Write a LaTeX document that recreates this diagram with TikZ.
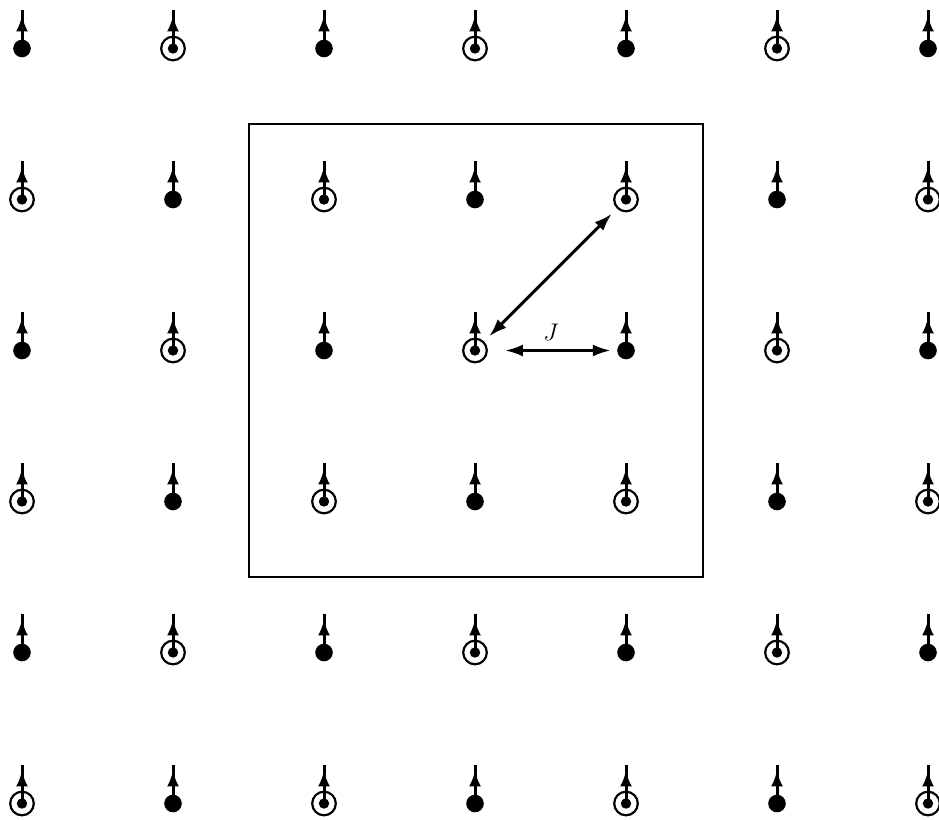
\documentclass[tikz,border=0pt]{standalone}
\usetikzlibrary{arrows.meta,decorations.markings}
\begin{document}
\begin{tikzpicture}[x=0.5pt,y=-0.5pt,
  dotsite/.style={circle,fill=black,inner sep=0pt,minimum size=8.8pt},
  ringsite/.style={circle,draw=black,line width=1.1pt,inner sep=0pt,minimum size=11.8pt,
    path picture={\fill[black] (path picture bounding box.center) circle (2.6pt);}},
  spin/.style={line width=1.5pt,postaction={decorate},
    decoration={markings,mark=at position 0.86 with {\arrow{Latex[length=8pt,width=6pt]}}}},
  coupling/.style={line width=1.5pt,{Latex[length=9pt,width=6pt]}-{Latex[length=9pt,width=6pt]}},
  cell/.style={line width=1.3pt}]
\clip (0,0) rectangle (939,820);
\foreach \c in {0,...,6}{
  \foreach \r in {0,...,5}{
    \pgfmathtruncatemacro{\myparity}{mod(\c+\r,2)}
    \pgfmathsetmacro{\xx}{22+151*\c}
    \pgfmathsetmacro{\yy}{48.5+151*\r}
    \ifnum\myparity=1
      \node[ringsite] (s-\c-\r) at (\xx,\yy) {};
    \else
      \node[dotsite] (s-\c-\r) at (\xx,\yy) {};
    \fi
    \coordinate (t-\c-\r) at (\xx,\yy-38.5);
    \draw[spin] (s-\c-\r.center) -- (t-\c-\r);
  }
}
\coordinate (bl) at (249,577);
\coordinate (tr) at (703,124);
\draw[cell] (bl) rectangle (tr);
\draw[coupling,shorten <=8.5pt,shorten >=3pt] (s-3-2) -- (s-4-2);
\draw[coupling,shorten <=3.5pt,shorten >=3.5pt] (s-3-2) -- (s-4-1);
\node[font=\large] (J) at (551,332) {$J$};
\end{tikzpicture}
\end{document}
